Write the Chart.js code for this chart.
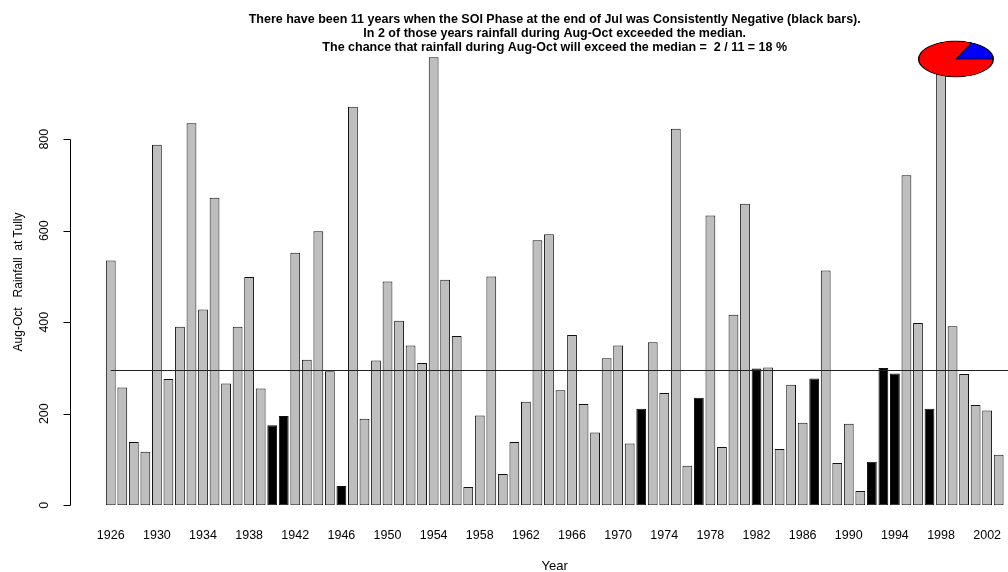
<!DOCTYPE html>
<html>
<head>
<meta charset="utf-8">
<title>Aug-Oct Rainfall at Tully</title>
<script src="https://cdn.jsdelivr.net/npm/chart.js@4.4.1/dist/chart.umd.min.js"></script>
<style>
  html, body { margin: 0; padding: 0; background: #fff; width: 1008px; height: 572px; overflow: hidden; }
  #main { position: absolute; left: 0; top: 0; }
  #pie { position: absolute; left: 918px; top: 21px; transform: scaleY(0.48); transform-origin: 38px 38px; }
</style>
</head>
<body>
<canvas id="main" width="1022" height="580"></canvas>
<canvas id="pie" width="76" height="76"></canvas>
<script>
// Aug-Oct rainfall totals at Tully, one bar per year
const years = [
  1926, 1927, 1928, 1929, 1930, 1931, 1932, 1933, 1934, 1935,
  1936, 1937, 1938, 1939, 1940, 1941, 1942, 1943, 1944, 1945,
  1946, 1947, 1948, 1949, 1950, 1951, 1952, 1953, 1954, 1955,
  1956, 1957, 1958, 1959, 1960, 1961, 1962, 1963, 1964, 1965,
  1966, 1967, 1968, 1969, 1970, 1971, 1972, 1973, 1974, 1975,
  1976, 1977, 1978, 1979, 1980, 1981, 1982, 1983, 1984, 1985,
  1986, 1987, 1988, 1989, 1990, 1991, 1992, 1993, 1994, 1995,
  1996, 1997, 1998, 1999, 2000, 2001, 2002, 2003
];
const rainfall = [
  535, 257, 138, 117, 788, 276, 390, 835, 428, 672,
  266, 390, 499, 255, 175, 195, 552, 318, 599, 293,
   42, 871, 189, 316, 489, 403, 349, 311, 979, 493,
  370,  40, 196, 500,  68, 138, 226, 579, 592, 251,
  372, 221, 159, 321, 349, 135, 211, 356, 245, 823,
   86, 235, 633, 127, 416, 659, 299, 301, 123, 263,
  180, 277, 513,  92, 178,  31,  95, 300, 288, 721,
  398, 211, 1005, 391, 287, 219, 207, 110
];
// Years when the SOI phase at the end of July was consistently negative
const negativeYears = [1940, 1941, 1946, 1972, 1977, 1982, 1987, 1992, 1993, 1994, 1997];
// Long-term median of Aug-Oct rainfall
const medianRainfall = 295;
// Of the negative-phase years: [above median, not above median]
const pieCounts = [2, 9];
const pieLabels = ['Above median', 'Below median'];

const xTickYears = [1926, 1930, 1934, 1938, 1942, 1946, 1950, 1954, 1958, 1962,
                    1966, 1970, 1974, 1978, 1982, 1986, 1990, 1994, 1998, 2002];
const yTickValues = [0, 200, 400, 600, 800];

const titleLines = [
  'There have been 11 years when the SOI Phase at the end of Jul was Consistently Negative (black bars).',
  'In 2 of those years rainfall during Aug-Oct exceeded the median.',
  'The chance that rainfall during Aug-Oct will exceed the median =  2 / 11 = 18 %'
];
const yTitle = 'Aug-Oct   Rainfall  at Tully';
const xTitle = 'Year';

const FONT = '"Liberation Sans", Arial, Helvetica, sans-serif';
const GREY = '#bebebe';

const barColors = years.map(y => negativeYears.includes(y) ? '#000000' : GREY);

// R-style left axis (detached from the plot) plus the median reference line
const axisPlugin = {
  id: 'rStyleAxis',
  afterDatasetsDraw(chart) {
    const { ctx, scales: { x, y } } = chart;
    const ym = Math.round(y.getPixelForValue(medianRainfall)) + 0.5;
    ctx.save();
    ctx.strokeStyle = '#222';
    ctx.lineWidth = 1;
    ctx.beginPath();
    ctx.moveTo(x.getPixelForValue(0), ym);
    ctx.lineTo(chart.width, ym);
    ctx.stroke();
    ctx.restore();
  },
  afterDraw(chart) {
    const { ctx, scales: { y } } = chart;
    const axisX = 70.5;
    const tickLen = 7;
    ctx.save();
    ctx.strokeStyle = '#000';
    ctx.lineWidth = 1;
    const yTop = Math.round(y.getPixelForValue(yTickValues[yTickValues.length - 1])) + 0.5;
    const yBot = Math.round(y.getPixelForValue(yTickValues[0])) + 0.5;
    ctx.beginPath();
    ctx.moveTo(axisX, yTop);
    ctx.lineTo(axisX, yBot);
    yTickValues.forEach(v => {
      const py = Math.round(y.getPixelForValue(v)) + 0.5;
      ctx.moveTo(axisX, py);
      ctx.lineTo(axisX - tickLen, py);
    });
    ctx.stroke();

    ctx.fillStyle = '#000';
    ctx.font = '12.5px ' + FONT;
    ctx.textAlign = 'center';
    ctx.textBaseline = 'middle';
    yTickValues.forEach(v => {
      const py = y.getPixelForValue(v);
      ctx.save();
      ctx.translate(45, py);
      ctx.rotate(-Math.PI / 2);
      ctx.fillText(String(v), 0, 0);
      ctx.restore();
    });

    ctx.font = '12px ' + FONT;
    ctx.save();
    ctx.translate(19, 282);
    ctx.rotate(-Math.PI / 2);
    ctx.fillText(yTitle, 0, 0);
    ctx.restore();
    ctx.restore();
  }
};

new Chart(document.getElementById('main'), {
  type: 'bar',
  data: {
    labels: years,
    datasets: [{
      label: 'Aug-Oct rainfall',
      data: rainfall,
      backgroundColor: barColors,
      borderColor: '#111',
      borderWidth: 1,
      borderSkipped: false,
      barPercentage: 0.85,
      categoryPercentage: 1.0
    }]
  },
  options: {
    responsive: false,
    animation: false,
    events: [],
    layout: { padding: { left: 105, right: 7.7, top: 13, bottom: 0 } },
    plugins: {
      legend: { display: false },
      tooltip: { enabled: false },
      title: {
        display: true,
        fullSize: false,
        text: titleLines,
        color: '#000',
        padding: 0,
        font: { family: FONT, size: 12.5, weight: 'bold', lineHeight: 14 / 12.5 }
      }
    },
    scales: {
      x: {
        grid: { display: false, drawTicks: false },
        border: { display: false },
        ticks: {
          autoSkip: false,
          maxRotation: 0,
          minRotation: 0,
          padding: 23.2,
          color: '#000',
          font: { family: FONT, size: 12.5 },
          callback: (val, idx) => xTickYears.includes(years[idx]) ? String(years[idx]) : ''
        },
        title: {
          display: true,
          text: xTitle,
          color: '#000',
          font: { family: FONT, size: 13 },
          padding: { top: -8.2, bottom: 6 }
        }
      },
      y: {
        display: false,
        min: 0,
        max: 984
      }
    }
  },
  plugins: [axisPlugin]
});

// Pie of outcomes for the negative-phase years, squashed into an ellipse by CSS
new Chart(document.getElementById('pie'), {
  type: 'pie',
  data: {
    labels: pieLabels,
    datasets: [{
      data: pieCounts,
      backgroundColor: ['#0000ff', '#ff0000'],
      borderColor: '#000',
      borderWidth: 1.4
    }]
  },
  options: {
    responsive: false,
    animation: false,
    events: [],
    rotation: 90 - 360 * pieCounts[0] / (pieCounts[0] + pieCounts[1]),
    layout: { padding: 0 },
    plugins: { legend: { display: false }, tooltip: { enabled: false } }
  }
});
</script>
</body>
</html>
